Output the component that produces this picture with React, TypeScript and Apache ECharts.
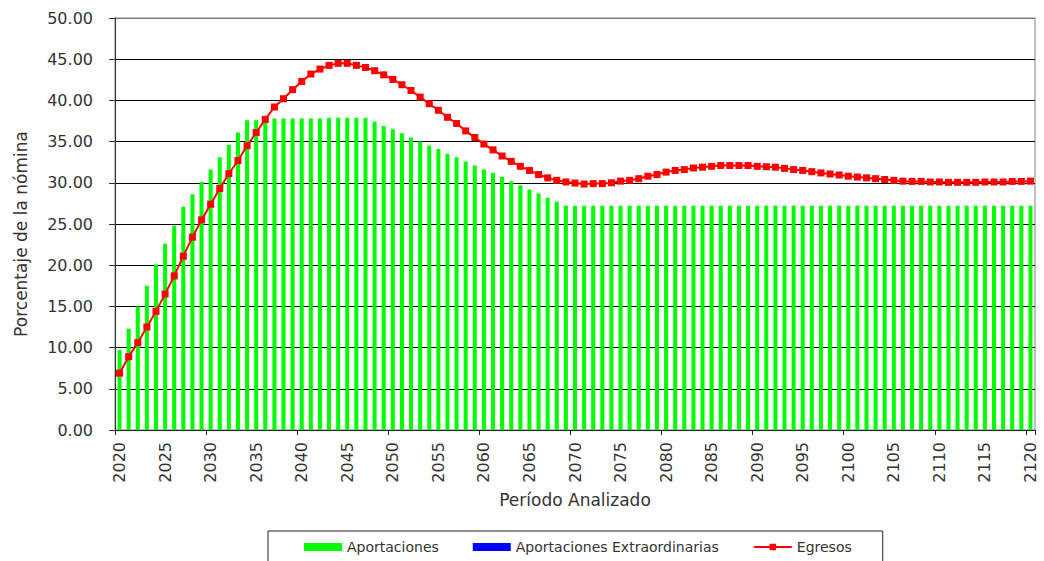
import React, { useEffect, useRef } from "react";
import * as echarts from "echarts";

const years: string[] = Array.from({ length: 101 }, (_, i) => String(2020 + i));

// 2020 .. 2120
const aportaciones: number[] = [
  9.7, 12.3, 15.0, 17.5, 20.1, 22.6, 24.8, 27.1, 28.6, 30.1, // 2020-2029
  31.6, 33.1, 34.6, 36.1, 37.6, 37.6, 37.7, 37.8, 37.8, 37.8, // 2030-2039
  37.8, 37.8, 37.8, 37.9, 37.9, 37.9, 37.9, 37.9, 37.4, 36.9, // 2040-2049
  36.5, 36.0, 35.5, 35.0, 34.5, 34.1, 33.5, 33.1, 32.6, 32.1, // 2050-2059
  31.6, 31.2, 30.7, 30.2, 29.7, 29.2, 28.7, 28.2, 27.7, 27.2, // 2060-2069
  27.2, 27.2, 27.2, 27.2, 27.2, 27.2, 27.2, 27.2, 27.2, 27.2, // 2070-2079
  27.2, 27.2, 27.2, 27.2, 27.2, 27.2, 27.2, 27.2, 27.2, 27.2, // 2080-2089
  27.2, 27.2, 27.2, 27.2, 27.2, 27.2, 27.2, 27.2, 27.2, 27.2, // 2090-2099
  27.2, 27.2, 27.2, 27.2, 27.2, 27.2, 27.2, 27.2, 27.2, 27.2, // 2100-2109
  27.2, 27.2, 27.2, 27.2, 27.2, 27.2, 27.2, 27.2, 27.2, 27.2, // 2110-2119
  27.2, // 2120
];

const aportacionesExtraordinarias: number[] = [
  0, 0, 0, 0, 0, 0, 0, 0, 0, 0,
  0, 0, 0, 0, 0, 0, 0, 0, 0, 0,
  0, 0, 0, 0, 0, 0, 0, 0, 0, 0,
  0, 0, 0, 0, 0, 0, 0, 0, 0, 0,
  0, 0, 0, 0, 0, 0, 0, 0, 0, 0,
  0, 0, 0, 0, 0, 0, 0, 0, 0, 0,
  0, 0, 0, 0, 0, 0, 0, 0, 0, 0,
  0, 0, 0, 0, 0, 0, 0, 0, 0, 0,
  0, 0, 0, 0, 0, 0, 0, 0, 0, 0,
  0, 0, 0, 0, 0, 0, 0, 0, 0, 0,
  0,
];

const egresos: number[] = [
  6.9, 8.9, 10.6, 12.5, 14.4, 16.5, 18.7, 21.1, 23.4, 25.5, // 2020-2029
  27.4, 29.3, 31.1, 32.7, 34.5, 36.1, 37.7, 39.2, 40.2, 41.3, // 2030-2039
  42.3, 43.2, 43.8, 44.25, 44.5, 44.5, 44.25, 44.0, 43.6, 43.1, // 2040-2049
  42.55, 41.9, 41.2, 40.4, 39.6, 38.8, 37.95, 37.2, 36.3, 35.5, // 2050-2059
  34.7, 34.0, 33.25, 32.6, 32.0, 31.5, 31.0, 30.6, 30.3, 30.1, // 2060-2069
  29.97, 29.85, 29.9, 29.9, 30.0, 30.2, 30.3, 30.5, 30.8, 31.0, // 2070-2079
  31.3, 31.5, 31.6, 31.8, 31.9, 32.0, 32.1, 32.1, 32.1, 32.1, // 2080-2089
  32.0, 31.95, 31.9, 31.75, 31.6, 31.5, 31.35, 31.2, 31.07, 30.95, // 2090-2099
  30.8, 30.7, 30.6, 30.5, 30.4, 30.3, 30.2, 30.17, 30.17, 30.1, // 2100-2109
  30.1, 30.06, 30.06, 30.06, 30.06, 30.1, 30.1, 30.1, 30.17, 30.17, // 2110-2119
  30.2, // 2120
];

const yMin = 0;
const yMax = 50;
const yStep = 5;

const FONT = "DejaVu Sans";
const TEXT = "#333333";

export default function App() {
  const ref = useRef<HTMLDivElement>(null);

  useEffect(() => {
    document.body.style.margin = "0";
    if (!ref.current) return;
    const chart = echarts.init(ref.current, null, { renderer: "svg" });

    const splitColors: string[] = [];
    for (let v = yMin; v <= yMax; v += yStep) splitColors.push(v === yMax ? "#808080" : "#000000");

    chart.setOption({
      animation: false,
      backgroundColor: "#ffffff",
      textStyle: { fontFamily: FONT },
      grid: {
        left: 115,
        right: 9,
        top: 18,
        bottom: 131,
        show: true,
        borderColor: "#808080",
        borderWidth: 1,
        backgroundColor: "transparent",
      },
      legend: {
        left: 268,
        top: 531,
        padding: [9, 31, 20, 36],
        borderColor: "#222222",
        borderWidth: 1,
        itemGap: 34,
        itemWidth: 38,
        itemHeight: 8,
        textStyle: { fontSize: 14, color: TEXT, fontFamily: FONT },
        data: [
          { name: "Aportaciones", icon: "rect" },
          { name: "Aportaciones Extraordinarias", icon: "rect" },
          { name: "Egresos" },
        ],
      },
      xAxis: {
        type: "category",
        data: years,
        boundaryGap: true,
        name: "Período Analizado",
        nameLocation: "middle",
        nameGap: 61,
        nameTextStyle: { fontSize: 17, color: TEXT, fontFamily: FONT },
        axisLine: { show: true, lineStyle: { color: "#222222", width: 1 } },
        axisTick: { show: true, interval: 9, length: 5, lineStyle: { color: "#222222" } },
        axisLabel: {
          interval: 4,
          rotate: 90,
          margin: 12,
          fontSize: 16,
          color: TEXT,
          fontFamily: FONT,
        },
        splitLine: { show: false },
      },
      yAxis: {
        type: "value",
        min: yMin,
        max: yMax,
        interval: yStep,
        axisLine: { show: true, lineStyle: { color: "#333333", width: 1 } },
        axisTick: { show: true, length: 6, lineStyle: { color: "#333333" } },
        axisLabel: {
          margin: 22,
          fontSize: 16,
          color: TEXT,
          fontFamily: FONT,
          formatter: (v: number) => v.toFixed(2),
        },
        splitLine: { show: true, lineStyle: { color: splitColors, width: 1 } },
      },
      graphic: [
        {
          type: "text",
          x: 21,
          y: 234,
          rotation: Math.PI / 2,
          style: {
            text: "Porcentaje de la nómina",
            fontSize: 17,
            fontFamily: FONT,
            fill: TEXT,
            textAlign: "center",
            textVerticalAlign: "middle",
          },
        },
      ],
      series: [
        {
          name: "Aportaciones",
          type: "bar",
          stack: "total",
          barWidth: 4,
          itemStyle: { color: "#00ff00" },
          data: aportaciones,
        },
        {
          name: "Aportaciones Extraordinarias",
          type: "bar",
          stack: "total",
          barWidth: 4,
          itemStyle: { color: "#0000ff" },
          data: aportacionesExtraordinarias,
        },
        {
          name: "Egresos",
          type: "line",
          symbol: "rect",
          symbolSize: 7,
          showAllSymbol: true,
          itemStyle: { color: "#ff0000" },
          lineStyle: { color: "#ff0000", width: 2 },
          data: egresos,
        },
      ],
    });

    return () => chart.dispose();
  }, []);

  return <div ref={ref} style={{ width: 1044, height: 561 }} />;
}
